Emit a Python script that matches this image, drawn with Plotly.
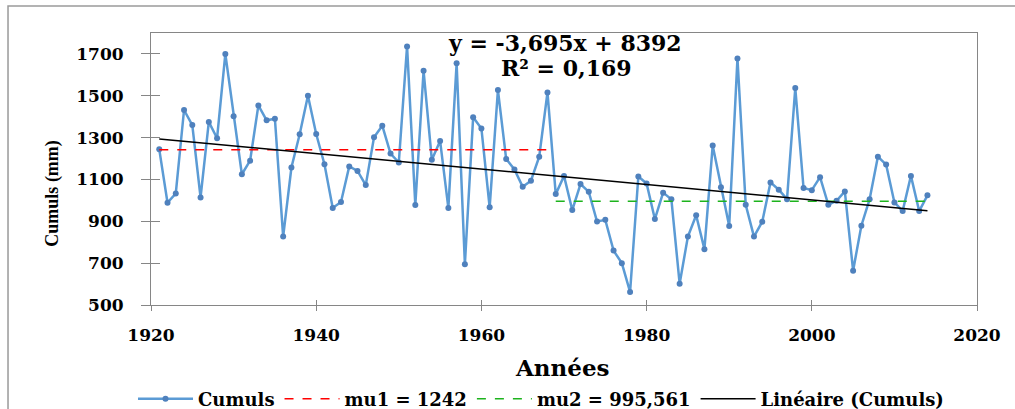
import plotly.graph_objects as go

years = list(range(1921, 2015))
cumuls = [
    1244, 989, 1033, 1432, 1360, 1014, 1375, 1297, 1700, 1402,
    1125, 1190, 1454, 1383, 1390, 827, 1157, 1316, 1500, 1317,
    1173, 964, 992, 1162, 1141, 1073, 1302, 1357, 1224, 1181,
    1736, 978, 1619, 1194, 1284, 964, 1655, 695, 1397, 1344,
    967, 1527, 1198, 1148, 1065, 1094, 1209, 1516, 1030, 1117,
    954, 1078, 1041, 899, 907, 760, 700, 562, 1114, 1081,
    911, 1037, 1005, 602, 827, 929, 767, 1262, 1063, 878,
    1678, 979, 827, 898, 1086, 1051, 1006, 1537, 1059, 1049,
    1111, 979, 998, 1043, 664, 879, 1006, 1209, 1171, 990,
    949, 1117, 949, 1024,
]
mu1 = 1242
mu2 = 995.561
break_year = 1968
slope = -3.695
intercept = 8392
r2 = "0,169"

x_ticks = [1920, 1940, 1960, 1980, 2000, 2020]
y_ticks = [500, 700, 900, 1100, 1300, 1500, 1700]

seg1 = [y for y in years if y <= break_year]
seg2 = [y for y in years if y > break_year]
trend_x = [years[0], years[-1]]
trend_y = [slope * x + intercept for x in trend_x]

tick_font = dict(family="DejaVu Serif", size=17, color="black", weight="bold")
fig = go.Figure()
fig.add_trace(go.Scatter(x=years, y=cumuls, mode="lines+markers", name="Cumuls",
                         line=dict(color="#5B9BD5", width=2.5),
                         marker=dict(color="#4F81BD", size=6)))
fig.add_trace(go.Scatter(x=[seg1[0], seg1[-1]], y=[mu1, mu1], mode="lines",
                         name="mu1 = 1242",
                         line=dict(color="#FF0000", width=1.5, dash="dash")))
fig.add_trace(go.Scatter(x=[seg2[0], seg2[-1]], y=[mu2, mu2], mode="lines",
                         name="mu2 = 995,561",
                         line=dict(color="#1DB31D", width=1.5, dash="dash")))
fig.add_trace(go.Scatter(x=trend_x, y=trend_y, mode="lines", name="Linéaire (Cumuls)",
                         xaxis="x2", yaxis="y2",
                         line=dict(color="black", width=1.5)))

axcommon = dict(showgrid=False, zeroline=False)
fig.update_layout(
    width=1015, height=409,
    margin=dict(l=151, r=38, t=33, b=104, autoexpand=False),
    plot_bgcolor="white", paper_bgcolor="white",
    showlegend=True,
    xaxis=dict(range=[1920, 2020], tickvals=x_ticks, ticks="outside", ticklen=5,
               tickcolor="#868686", showline=True, linecolor="#868686", mirror=True,
               tickfont=tick_font, ticklabelstandoff=10, **axcommon),
    yaxis=dict(range=[500, 1800], tickvals=y_ticks, ticks="outside", ticklen=9,
               tickcolor="#868686", showline=True, linecolor="#868686", mirror=True,
               tickfont=tick_font, ticklabelstandoff=14, **axcommon),
    xaxis2=dict(range=[1920, 2020], tickvals=x_ticks, ticks="inside", ticklen=5,
                tickcolor="#868686", overlaying="x", showticklabels=False,
                showline=False, **axcommon),
    yaxis2=dict(range=[500, 1800], tickvals=y_ticks, ticks="inside", ticklen=9,
                tickcolor="#868686", overlaying="y", showticklabels=False,
                showline=False, **axcommon),
    legend=dict(orientation="h", xref="container", yref="container",
                x=0.533, xanchor="center", y=0.0244, yanchor="middle",
                font=dict(family="DejaVu Serif", size=18, color="black", weight="bold"),
                bgcolor="rgba(0,0,0,0)", itemwidth=55),
)

fig.add_annotation(text=f"y = {str(slope).replace('.', ',')}x + {intercept}",
                   xref="paper", yref="paper", x=0.501, y=0.962,
                   showarrow=False, xanchor="center", yanchor="middle",
                   font=dict(family="DejaVu Serif", size=22, color="black", weight="bold"))
fig.add_annotation(text=f"R² = {r2}",
                   xref="paper", yref="paper", x=0.503, y=0.871,
                   showarrow=False, xanchor="center", yanchor="middle",
                   font=dict(family="DejaVu Serif", size=22, color="black", weight="bold"))
fig.add_annotation(text="Années", xref="paper", yref="paper", x=0.4976, y=-0.2316,
                   showarrow=False, xanchor="center", yanchor="middle",
                   font=dict(family="DejaVu Serif", size=23, color="black", weight="bold"))
fig.add_annotation(text="Cumuls (mm)", xref="paper", yref="paper", x=-0.119, y=0.412,
                   showarrow=False, xanchor="center", yanchor="middle", textangle=-90,
                   font=dict(family="Liberation Serif", size=18, color="black", weight="bold"))

fig.add_shape(type="rect", xref="paper", yref="paper",
              x0=-0.1731, x1=1.1, y0=-0.45, y1=1.099,
              line=dict(color="#9A9A9A", width=1.5), fillcolor="rgba(0,0,0,0)", layer="below")

fig.write_html("out.html", config={"displayModeBar": False},
               post_script="document.body.style.margin='0';document.body.style.padding='0';")
